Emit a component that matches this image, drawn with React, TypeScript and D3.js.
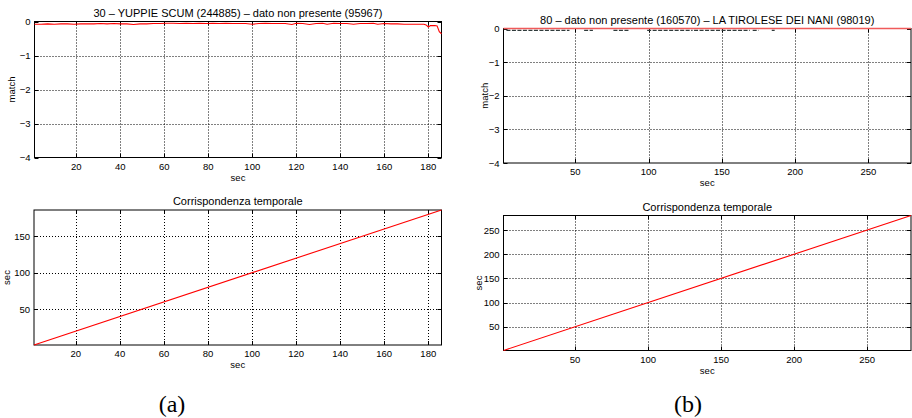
import * as d3 from "d3";

// top-left: match value over time (sec, match)
const matchA: [number, number][] = [
  [1, -0.08], [4, -0.08], [7, -0.07], [10, -0.08], [13, -0.07], [16, -0.07], [19, -0.08],
  [22, -0.07], [25, -0.07], [28, -0.07], [31, -0.06], [34, -0.07], [37, -0.06], [40, -0.07],
  [43, -0.07], [46, -0.09], [49, -0.07], [52, -0.07], [55, -0.06], [58, -0.06], [61, -0.05],
  [64, -0.05], [67, -0.06], [70, -0.05], [73, -0.06], [76, -0.05], [79, -0.06], [82, -0.05],
  [85, -0.06], [88, -0.05], [91, -0.06], [94, -0.06], [97, -0.06], [100, -0.08], [103, -0.06],
  [106, -0.05], [109, -0.06], [112, -0.06], [115, -0.06], [118, -0.09], [120, -0.05], [123, -0.06],
  [126, -0.09], [129, -0.06], [132, -0.05], [134, -0.08], [137, -0.05], [140, -0.06], [143, -0.06],
  [146, -0.08], [149, -0.06], [152, -0.06], [155, -0.05], [157, -0.08], [160, -0.06], [163, -0.07],
  [166, -0.07], [169, -0.08], [172, -0.08], [175, -0.08], [178, -0.08], [179, -0.1], [180, -0.16],
  [181, -0.12], [183, -0.12], [184, -0.13], [185, -0.3], [186, -0.36],
];
// top-right: match sits at 0, with short dips just below it
const matchB: [number, number][] = [[1, 0], [279, 0]];
const dipsB: [number, number][] = [[3, 46], [56, 62], [76, 87], [99, 130], [131, 169], [171, 175], [184, 186]];
const dipLevel = -0.025;

// bottom: time correspondence
const corrA: [number, number][] = [[1, 1], [186, 186]];
const corrB: [number, number][] = [[1, 1], [280, 280]];

const ticksA = [20, 40, 60, 80, 100, 120, 140, 160, 180];
const ticksB = [50, 100, 150, 200, 250];
const matchTicks = [0, -1, -2, -3, -4];
const corrTicksA = [50, 100, 150];
const corrTicksB = [50, 100, 150, 200, 250];

const FONT = "'Liberation Sans', Arial, Helvetica, sans-serif";
const RED = "#ff0000";

type PanelProps = {
  left: number; top: number; width: number; height: number;
  xDomain: [number, number]; yDomain: [number, number];
  xTicks: number[]; yTicks: number[];
  title: string; xLabel: string; yLabel: string; yLabelX: number;
  render: (x: d3.ScaleLinear<number, number>, y: d3.ScaleLinear<number, number>) => React.ReactNode;
};

const px = (v: number) => Math.round(v) + 0.5;

function Panel({ left, top, width, height, xDomain, yDomain, xTicks, yTicks, title, xLabel, yLabel, yLabelX, render }: PanelProps) {
  const x = d3.scaleLinear().domain(xDomain).range([left, left + width]);
  const y = d3.scaleLinear().domain(yDomain).range([top + height, top]);
  const bottom = top + height, right = left + width;
  const inner = (v: number, d: [number, number]) => v > Math.min(...d) + 1e-6 && v < Math.max(...d) - 1e-6;
  const tl = 4;
  return (
    <g>
      <text x={left + width / 2} y={top - 5} textAnchor="middle" fontSize={11} fontFamily={FONT}>{title}</text>
      {/* grid */}
      {xTicks.filter((t) => inner(t, xDomain)).map((t) => (
        <line key={`gx${t}`} x1={px(x(t))} x2={px(x(t))} y1={top} y2={bottom} stroke="#000" strokeWidth={1} strokeDasharray="1 2" />
      ))}
      {yTicks.filter((t) => inner(t, yDomain)).map((t) => (
        <line key={`gy${t}`} x1={left} x2={right} y1={px(y(t))} y2={px(y(t))} stroke="#000" strokeWidth={1} strokeDasharray="1 2" />
      ))}
      {/* inner tick marks */}
      {xTicks.map((t) => (
        <g key={`tx${t}`}>
          <line x1={px(x(t))} x2={px(x(t))} y1={bottom} y2={bottom - tl} stroke="#000" />
          <line x1={px(x(t))} x2={px(x(t))} y1={top} y2={top + tl} stroke="#000" />
          <text x={x(t)} y={bottom + 12} textAnchor="middle" fontSize={9.5} fontFamily={FONT}>{t}</text>
        </g>
      ))}
      {yTicks.map((t) => (
        <g key={`ty${t}`}>
          <line x1={left} x2={left + tl} y1={px(y(t))} y2={px(y(t))} stroke="#000" />
          <line x1={right} x2={right - tl} y1={px(y(t))} y2={px(y(t))} stroke="#000" />
          <text x={left - 4} y={y(t) + 3.5} textAnchor="end" fontSize={9.5} fontFamily={FONT}>{t < 0 ? `\u2212${-t}` : t}</text>
        </g>
      ))}
      <rect x={left} y={top} width={width} height={height} fill="none" stroke="#000" strokeWidth={1} />
      {render(x, y)}
      <text x={left + width / 2} y={bottom + 23} textAnchor="middle" fontSize={9.5} fontFamily={FONT}>{xLabel}</text>
      <text transform={`translate(${yLabelX},${top + height / 2}) rotate(-90)`} textAnchor="middle" fontSize={9.5} fontFamily={FONT}>{yLabel}</text>
    </g>
  );
}

export default function App() {
  const line = (x: d3.ScaleLinear<number, number>, y: d3.ScaleLinear<number, number>) =>
    d3.line<[number, number]>().x((d) => x(d[0])).y((d) => y(d[1]));
  return (
    <div style={{ position: "fixed", left: 0, top: 0, background: "#fff" }}>
      <svg width={912} height={418} style={{ display: "block" }}>
        <rect width={912} height={418} fill="#fff" />
        <Panel left={34.5} top={21.5} width={407} height={136} xDomain={[1, 186]} yDomain={[-4, 0]}
          xTicks={ticksA} yTicks={matchTicks} title="30 – YUPPIE SCUM (244885) – dato non presente (95967)"
          xLabel="sec" yLabel="match" yLabelX={15}
          render={(x, y) => <path d={line(x, y)(matchA) ?? ""} fill="none" stroke={RED} strokeWidth={1.1} />} />
        <Panel left={503.5} top={28.5} width={407.5} height={134.5} xDomain={[1, 279]} yDomain={[-4, 0]}
          xTicks={ticksB} yTicks={matchTicks} title="80 – dato non presente (160570) – LA TIROLESE DEI NANI (98019)"
          xLabel="sec" yLabel="match" yLabelX={488}
          render={(x, y) => (
            <g>
              {dipsB.map(([a, b]) => (
                <line key={a} x1={x(a)} x2={x(b)} y1={y(dipLevel) + 1} y2={y(dipLevel) + 1} stroke="#2f3b3b" strokeWidth={1.3} strokeDasharray="4 1.5" />
              ))}
              <path d={line(x, y)(matchB) ?? ""} fill="none" stroke="#f05a5a" strokeWidth={1.6} />
            </g>
          )} />
        <Panel left={34} top={210} width={407.5} height={135} xDomain={[1, 186]} yDomain={[1, 186]}
          xTicks={ticksA} yTicks={corrTicksA} title="Corrispondenza temporale"
          xLabel="sec" yLabel="sec" yLabelX={10}
          render={(x, y) => <path d={line(x, y)(corrA) ?? ""} fill="none" stroke={RED} strokeWidth={1.1} />} />
        <Panel left={503.5} top={215.5} width={407.5} height={135} xDomain={[1, 280]} yDomain={[1, 280]}
          xTicks={ticksB} yTicks={corrTicksB} title="Corrispondenza temporale"
          xLabel="sec" yLabel="sec" yLabelX={482}
          render={(x, y) => <path d={line(x, y)(corrB) ?? ""} fill="none" stroke={RED} strokeWidth={1.1} />} />
        <text x={172} y={412} textAnchor="middle" fontSize={24} fontFamily="'Liberation Serif', 'Times New Roman', serif">(a)</text>
        <text x={688} y={412} textAnchor="middle" fontSize={24} fontFamily="'Liberation Serif', 'Times New Roman', serif">(b)</text>
      </svg>
    </div>
  );
}
